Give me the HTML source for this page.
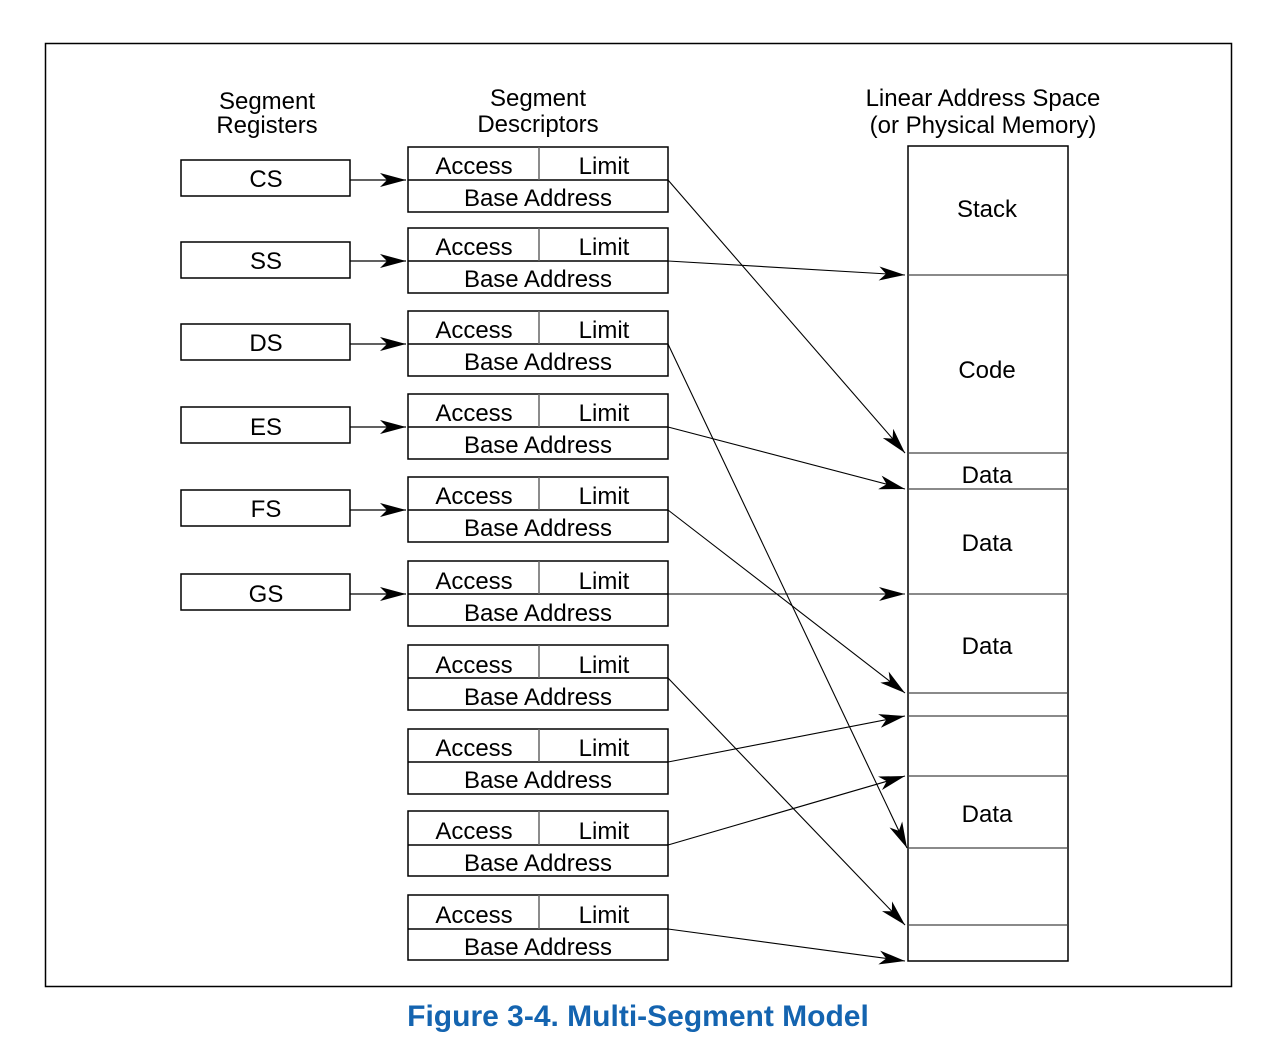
<!DOCTYPE html>
<html><head><meta charset="utf-8"><style>
html,body{margin:0;padding:0;background:#fff;}
svg{display:block;}
text{font-family:"Liberation Sans",sans-serif;fill:#000;}
</style></head><body>
<svg width="1286" height="1052" viewBox="0 0 1286 1052" xmlns="http://www.w3.org/2000/svg">
<defs>
<marker id="ah" markerWidth="28" markerHeight="14" refX="26" refY="7" orient="auto" markerUnits="userSpaceOnUse">
<path d="M0,0 L26,7 L0,14 L7,7 Z" fill="#000"/>
</marker>
</defs>
<rect x="45.5" y="43.5" width="1186" height="943" fill="none" stroke="#000" stroke-width="1.5"/>
<g font-size="24" text-anchor="middle">
<text x="267" y="109">Segment</text>
<text x="267" y="133">Registers</text>
<text x="538" y="106">Segment</text>
<text x="538" y="132">Descriptors</text>
<text x="983" y="106">Linear Address Space</text>
<text x="983" y="133">(or Physical Memory)</text>
</g>
<g stroke="#000" stroke-width="1.5" fill="none">
<rect x="181" y="160" width="169" height="36"/>
<rect x="181" y="242" width="169" height="36"/>
<rect x="181" y="324" width="169" height="36"/>
<rect x="181" y="407" width="169" height="36"/>
<rect x="181" y="490" width="169" height="36"/>
<rect x="181" y="574" width="169" height="36"/>
</g>
<g font-size="24" text-anchor="middle">
<text x="266" y="187">CS</text>
<text x="266" y="269">SS</text>
<text x="266" y="351">DS</text>
<text x="266" y="435">ES</text>
<text x="266" y="517">FS</text>
<text x="266" y="602">GS</text>
</g>
<g stroke="#000" stroke-width="1.2" marker-end="url(#ah)">
<line x1="350" y1="180" x2="406" y2="180"/>
<line x1="350" y1="261" x2="406" y2="261"/>
<line x1="350" y1="344" x2="406" y2="344"/>
<line x1="350" y1="427" x2="406" y2="427"/>
<line x1="350" y1="510" x2="406" y2="510"/>
<line x1="350" y1="594" x2="406" y2="594"/>
</g>
<g stroke="#000" stroke-width="1.5" fill="none">
<rect x="408" y="147" width="260" height="65"/><line x1="408" y1="180" x2="668" y2="180"/><line x1="539" y1="147" x2="539" y2="180" stroke="#666"/>
<rect x="408" y="228" width="260" height="65"/><line x1="408" y1="261" x2="668" y2="261"/><line x1="539" y1="228" x2="539" y2="261" stroke="#666"/>
<rect x="408" y="311" width="260" height="65"/><line x1="408" y1="344" x2="668" y2="344"/><line x1="539" y1="311" x2="539" y2="344" stroke="#666"/>
<rect x="408" y="394" width="260" height="65"/><line x1="408" y1="427" x2="668" y2="427"/><line x1="539" y1="394" x2="539" y2="427" stroke="#666"/>
<rect x="408" y="477" width="260" height="65"/><line x1="408" y1="510" x2="668" y2="510"/><line x1="539" y1="477" x2="539" y2="510" stroke="#666"/>
<rect x="408" y="561" width="260" height="65"/><line x1="408" y1="594" x2="668" y2="594"/><line x1="539" y1="561" x2="539" y2="594" stroke="#666"/>
<rect x="408" y="645" width="260" height="65"/><line x1="408" y1="678" x2="668" y2="678"/><line x1="539" y1="645" x2="539" y2="678" stroke="#666"/>
<rect x="408" y="729" width="260" height="65"/><line x1="408" y1="762" x2="668" y2="762"/><line x1="539" y1="729" x2="539" y2="762" stroke="#666"/>
<rect x="408" y="811" width="260" height="65"/><line x1="408" y1="845" x2="668" y2="845"/><line x1="539" y1="811" x2="539" y2="845" stroke="#666"/>
<rect x="408" y="895" width="260" height="65"/><line x1="408" y1="929" x2="668" y2="929"/><line x1="539" y1="895" x2="539" y2="929" stroke="#666"/>
</g>
<g font-size="24" text-anchor="middle">
<text x="474" y="174">Access</text><text x="604" y="174">Limit</text><text x="538" y="206">Base Address</text>
<text x="474" y="255">Access</text><text x="604" y="255">Limit</text><text x="538" y="287">Base Address</text>
<text x="474" y="338">Access</text><text x="604" y="338">Limit</text><text x="538" y="370">Base Address</text>
<text x="474" y="421">Access</text><text x="604" y="421">Limit</text><text x="538" y="453">Base Address</text>
<text x="474" y="504">Access</text><text x="604" y="504">Limit</text><text x="538" y="536">Base Address</text>
<text x="474" y="589">Access</text><text x="604" y="589">Limit</text><text x="538" y="621">Base Address</text>
<text x="474" y="673">Access</text><text x="604" y="673">Limit</text><text x="538" y="705">Base Address</text>
<text x="474" y="756">Access</text><text x="604" y="756">Limit</text><text x="538" y="788">Base Address</text>
<text x="474" y="839">Access</text><text x="604" y="839">Limit</text><text x="538" y="871">Base Address</text>
<text x="474" y="923">Access</text><text x="604" y="923">Limit</text><text x="538" y="955">Base Address</text>
</g>
<g stroke="#000" stroke-width="1.5" fill="none">
<rect x="908" y="146" width="160" height="815"/>
<g stroke="#444" stroke-width="1.2">
<line x1="908" y1="275" x2="1068" y2="275"/>
<line x1="908" y1="453" x2="1068" y2="453"/>
<line x1="908" y1="489" x2="1068" y2="489"/>
<line x1="908" y1="594" x2="1068" y2="594"/>
<line x1="908" y1="693" x2="1068" y2="693"/>
<line x1="908" y1="716" x2="1068" y2="716"/>
<line x1="908" y1="776" x2="1068" y2="776"/>
<line x1="908" y1="848" x2="1068" y2="848"/>
<line x1="908" y1="925" x2="1068" y2="925"/>
</g>
</g>
<g font-size="24" text-anchor="middle">
<text x="987" y="217">Stack</text>
<text x="987" y="378">Code</text>
<text x="987" y="483">Data</text>
<text x="987" y="551">Data</text>
<text x="987" y="654">Data</text>
<text x="987" y="822">Data</text>
</g>
<g stroke="#000" stroke-width="1.1" marker-end="url(#ah)">
<line x1="668" y1="180" x2="905" y2="453"/>
<line x1="668" y1="261" x2="905" y2="275"/>
<line x1="668" y1="344" x2="907" y2="848"/>
<line x1="668" y1="427" x2="905" y2="489"/>
<line x1="668" y1="510" x2="905" y2="693"/>
<line x1="668" y1="594" x2="905" y2="594"/>
<line x1="668" y1="678" x2="905" y2="925"/>
<line x1="668" y1="762" x2="905" y2="716"/>
<line x1="668" y1="845" x2="905" y2="776"/>
<line x1="668" y1="929" x2="905" y2="961"/>
</g>
<text x="638" y="1026" text-anchor="middle" font-size="30" font-weight="bold" style="font-family:'Liberation Sans Narrow','Liberation Sans',sans-serif;fill:#1464b0">Figure 3-4.  Multi-Segment Model</text>
</svg>
</body></html>
